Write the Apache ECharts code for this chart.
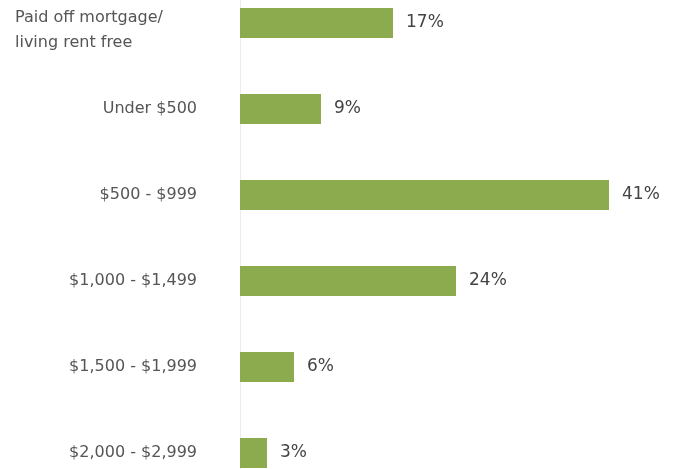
<!DOCTYPE html>
<html>
<head>
<meta charset="utf-8">
<script src="https://cdn.jsdelivr.net/npm/echarts@6/dist/echarts.min.js"></script>
<style>
  html, body { margin: 0; padding: 0; background: #fff; }
  #wrap { width: 676px; height: 469px; overflow: hidden; position: relative; }
  /* the bars run past the top and bottom of the picture, so the chart is taller and shifted up */
  #chart { width: 676px; height: 516px; position: absolute; left: 0; top: -20px; }
</style>
</head>
<body>
<div id="wrap"><div id="chart"></div></div>
<script>
// rent / mortgage buckets, top to bottom
var categories = [
  'Paid off mortgage/\nliving rent free',
  'Under $500',
  '$500 - $999',
  '$1,000 - $1,499',
  '$1,500 - $1,999',
  '$2,000 - $2,999'
]
var shares = [17, 9, 41, 24, 6, 3]

var chart = echarts.init(document.getElementById('chart'))
var option = {
  backgroundColor: '#fff',
  animation: false,
  grid: {
    left: 240,
    right: 67,
    top: 0,
    bottom: 0
  },
  xAxis: {
    type: 'value',
    min: 0,
    max: 41,
    show: false
  },
  yAxis: {
    type: 'category',
    inverse: true,
    data: categories,
    axisLine: { show: true, lineStyle: { color: '#ececec', width: 1 } },
    axisTick: { show: false },
    axisLabel: {
      margin: 43,
      color: '#555',
      fontFamily: 'DejaVu Sans',
      fontSize: 16,
      formatter: function (val, idx) {
        if (idx === 0) {
          return '{wrap|' + val + '}'
        }
        return val
      },
      rich: {
        wrap: {
          width: 182,
          align: 'left',
          lineHeight: 25,
          padding: [14, 0, 0, 0],
          color: '#555',
          fontFamily: 'DejaVu Sans',
          fontSize: 16
        }
      }
    }
  },
  series: [{
    type: 'bar',
    data: shares,
    barWidth: 30,
    itemStyle: { color: '#8cab4e' },
    label: {
      show: true,
      position: 'right',
      distance: 13,
      formatter: '{c}%',
      color: '#444',
      fontFamily: 'DejaVu Sans',
      fontSize: 17
    }
  }]
}
chart.setOption(option)
</script>
</body>
</html>
